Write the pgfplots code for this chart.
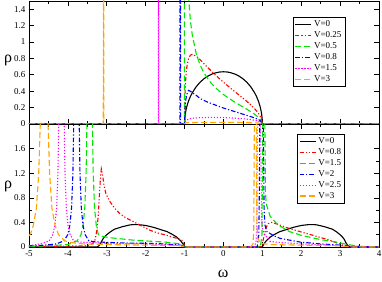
\documentclass[border=0pt]{standalone}
\usepackage{fontspec}
\setmainfont{Liberation Serif}
\usepackage{pgfplots}
\pgfplotsset{compat=1.18}
\definecolor{cgreen}{RGB}{0,230,0}
\definecolor{corange}{RGB}{255,165,0}
\definecolor{cmag}{RGB}{255,0,255}
\definecolor{cblue}{RGB}{0,0,255}
\definecolor{cred}{RGB}{255,0,0}
\pgfplotsset{
  myax/.style={scale only axis, width=350pt, height=123pt,
    xmin=-5, xmax=4, xtick={-5,...,4}, minor x tick num=1,
    tick align=inside, major tick length=5pt, minor tick length=3pt,
    axis line style={line width=0.9pt},
    every tick/.style={black, line width=0.6pt},
    tick label style={font=\fontsize{9}{10}\selectfont},
    /pgf/number format/assume math mode=true,
    legend style={font=\fontsize{9}{10}\selectfont, draw=black,
      inner sep=1.5pt, row sep=-0.5pt, cells={anchor=west}},
    legend cell align=left,
    legend image code/.code={\draw[#1, line width=1.5pt] (0pt,0pt) -- (16pt,0pt);},
    ylabel style={rotate=-90, anchor=center, font=\fontsize{16}{18}\selectfont},
  },
  s0/.style={draw=black, color=black, line width=1.1pt},
  s1/.style={draw=cred, color=cred, line width=1.1pt, dash pattern=on 4pt off 2pt on 1.2pt off 2pt on 1.2pt off 2pt},
  s2/.style={draw=cgreen, color=cgreen, line width=1.1pt, dash pattern=on 6pt off 3pt},
  s3/.style={draw=cblue, color=cblue, line width=1.1pt, dash pattern=on 4.5pt off 2pt on 1.2pt off 2pt},
  s4/.style={draw=cmag, color=cmag, line width=1.1pt, dash pattern=on 1.2pt off 1.8pt},
  s5/.style={draw=corange, color=corange, line width=1.1pt, dash pattern=on 6pt off 3pt},
}
\begin{document}
\begin{tikzpicture}
\useasboundingbox (-29pt,-34pt) rectangle (353pt,247pt);
% ---------------- top panel
\begin{axis}[myax, at={(0pt,123pt)}, anchor=south west,
  ymin=0, ymax=1.5, ytick={0,0.2,0.4,0.6,0.8,1,1.2,1.4}, xticklabels={},
  ylabel={ρ}, ylabel style={at={(axis description cs:-0.06,0.52)}},
  legend style={at={(axis description cs:0.754,0.87)}, anchor=north west}]
\addplot[s0] coordinates {(-5,0)(-1,0)(-0.99,0.090)(-0.98,0.127)(-0.96,0.178)(-0.94,0.217)(-0.9,0.278)(-0.85,0.336)(-0.8,0.382)(-0.7,0.455)(-0.6,0.510)(-0.5,0.552)(-0.4,0.584)(-0.3,0.608)(-0.2,0.624)(-0.1,0.634)(0,0.637)(0.1,0.634)(0.2,0.624)(0.3,0.608)(0.4,0.584)(0.5,0.552)(0.6,0.510)(0.7,0.455)(0.8,0.382)(0.85,0.336)(0.9,0.278)(0.94,0.217)(0.96,0.178)(0.98,0.127)(0.99,0.090)(1,0)(4,0)};
\addlegendentry{V=0}
\addplot[s1] coordinates {(-5,0)(-1,0)(-0.99,0.345)(-0.98,0.469)(-0.96,0.615)(-0.94,0.700)(-0.9,0.793)(-0.85,0.839)(-0.8,0.849)(-0.7,0.827)(-0.6,0.784)(-0.5,0.735)(-0.4,0.687)(-0.3,0.640)(-0.2,0.595)(-0.1,0.551)(0,0.510)(0.1,0.470)(0.2,0.430)(0.3,0.392)(0.4,0.354)(0.5,0.315)(0.6,0.276)(0.7,0.233)(0.8,0.186)(0.85,0.160)(0.9,0.129)(0.94,0.099)(0.96,0.081)(0.98,0.057)(1,0)(4,0)};
\addlegendentry{V=0.25}
\addplot[s2] coordinates {(-5,0)(-1.005,0)(-1.0,4)(-0.97,4)(-0.95,2.25)(-0.9,1.57)(-0.85,1.26)(-0.8,1.08)(-0.7,0.857)(-0.6,0.72)(-0.5,0.624)(-0.4,0.55)(-0.3,0.49)(-0.2,0.441)(-0.1,0.398)(0,0.36)(0.1,0.326)(0.2,0.294)(0.3,0.264)(0.4,0.236)(0.5,0.208)(0.6,0.18)(0.7,0.151)(0.8,0.12)(0.9,0.082)(0.95,0.058)(1,0)(4,0)};
\addlegendentry{V=0.5}
\addplot[s3] coordinates {(-5,0)(-1.12,0)(-1.11,4)(-1.10,0)(-1,0)(-0.98,0.25)(-0.95,0.35)(-0.9,0.41)(-0.85,0.40)(-0.8,0.38)(-0.7,0.35)(-0.6,0.31)(-0.4,0.265)(-0.2,0.23)(0,0.195)(0.2,0.165)(0.4,0.135)(0.6,0.105)(0.8,0.075)(0.9,0.055)(0.95,0.04)(1,0)(4,0)};
\addlegendentry{V=0.8}
\addplot[s4] coordinates {(-5,0)(-1.675,0)(-1.667,4)(-1.66,0)(-1,0)(-0.98,0.03)(-0.95,0.045)(-0.9,0.06)(-0.8,0.07)(-0.6,0.078)(-0.4,0.08)(-0.2,0.08)(0,0.078)(0.2,0.074)(0.4,0.068)(0.6,0.06)(0.8,0.046)(0.9,0.036)(0.95,0.027)(1,0)(4,0)};
\addlegendentry{V=1.5}
\addplot[s5] coordinates {(-5,0)(-3.09,0)(-3.083,4)(-3.076,0)(-1,0)(-0.98,0.012)(-0.9,0.018)(-0.5,0.02)(0,0.02)(0.5,0.018)(0.9,0.012)(1,0)(4,0)};
\addlegendentry{V=3}
\end{axis}
% ---------------- bottom panel
\begin{axis}[myax, at={(0pt,0pt)}, anchor=south west,
  ymin=0, ymax=2, ytick={0,0.4,0.8,1.2,1.6}, minor y tick num=1,
  ylabel={ρ}, ylabel style={at={(axis description cs:-0.06,0.49)}},
  xlabel={ω}, xlabel style={at={(axis description cs:0.5545,-0.22)}, anchor=center, font=\fontsize{16}{18}\selectfont},
  legend style={at={(axis description cs:0.766,0.919)}, anchor=north west}]
\addplot[s0] coordinates {(-5,0)(-3.25,0)(-3.2,0.02)(-3.15,0.07)(-3.1,0.13)(-3.05,0.17)(-3.0,0.2)(-2.9,0.25)(-2.8,0.29)(-2.6,0.33)(-2.4,0.36)(-2.3,0.365)(-2.2,0.365)(-2.0,0.35)(-1.8,0.32)(-1.6,0.28)(-1.45,0.25)(-1.3,0.2)(-1.2,0.16)(-1.1,0.1)(-1.04,0.05)(-1.0,0)(1.0,0)(1.04,0.05)(1.1,0.1)(1.2,0.16)(1.3,0.2)(1.45,0.25)(1.6,0.28)(1.8,0.32)(2.0,0.35)(2.2,0.365)(2.3,0.365)(2.4,0.36)(2.6,0.33)(2.8,0.29)(2.9,0.25)(3.0,0.2)(3.05,0.17)(3.1,0.13)(3.15,0.07)(3.2,0.02)(3.25,0)(4,0)};
\addlegendentry{V=0}
\addplot[s1] coordinates {(-5,0.005)(-3.5,0.02)(-3.35,0.06)(-3.3,0.12)(-3.26,0.25)(-3.22,0.5)(-3.19,0.85)(-3.16,1.15)(-3.14,1.27)(-3.11,1.18)(-3.07,1.0)(-3.02,0.86)(-2.91,0.73)(-2.8,0.63)(-2.66,0.54)(-2.5,0.47)(-2.31,0.41)(-2.1,0.34)(-1.88,0.27)(-1.7,0.23)(-1.46,0.19)(-1.3,0.16)(-1.15,0.13)(-1.07,0.11)(-1.02,0.06)(-1.0,0)(0.95,0)(1.0,0.05)(1.05,0.2)(1.1,0.32)(1.15,0.38)(1.24,0.40)(1.4,0.37)(1.6,0.32)(1.97,0.25)(2.3,0.19)(2.74,0.11)(2.9,0.07)(3.07,0.03)(3.2,0.01)(4,0)};
\addlegendentry{V=0.8}
\addplot[s2] coordinates {(-5,0.01)(-4.5,0.02)(-4.0,0.04)(-3.76,0.1)(-3.664,0.2)(-3.61,0.35)(-3.566,0.63)(-3.531,1.2)(-3.511,2.0)(-3.49,4)(-3.44,6)(-3.39,4)(-3.369,2.0)(-3.349,1.2)(-3.314,0.63)(-3.27,0.35)(-3.216,0.2)(-3.1,0.17)(-2.9,0.15)(-2.3,0.11)(-1.5,0.08)(-1.1,0.05)(-1.0,0)(0.95,0)(0.99,0.2)(1.0,1)(1.01,2)(1.04,6)(1.065,2)(1.08,0.9)(1.1,0.7)(1.2,0.5)(1.4,0.36)(1.7,0.25)(2.0,0.19)(2.5,0.12)(2.9,0.08)(3.2,0.04)(3.5,0.01)(4,0)};
\addlegendentry{V=1.5}
\addplot[s3] coordinates {(-5,0.02)(-4.6,0.03)(-4.3,0.05)(-4.1,0.1)(-4.004,0.2)(-3.95,0.35)(-3.906,0.63)(-3.871,1.2)(-3.851,2.0)(-3.83,4)(-3.78,6)(-3.73,4)(-3.709,2.0)(-3.689,1.2)(-3.654,0.63)(-3.611,0.35)(-3.556,0.2)(-3.46,0.1)(-3.3,0.085)(-3.0,0.075)(-2.5,0.065)(-2.0,0.06)(-1.5,0.05)(-1.1,0.03)(-1.0,0)(0.87,0)(0.91,0.2)(0.925,1)(0.935,2)(0.98,6)(1.025,2)(1.045,0.6)(1.07,0.35)(1.12,0.25)(1.3,0.18)(1.46,0.14)(1.97,0.08)(2.5,0.05)(3.0,0.03)(3.3,0.01)(4,0)};
\addlegendentry{V=2}
\addplot[s4] coordinates {(-5,0.02)(-4.8,0.04)(-4.6,0.07)(-4.48,0.1)(-4.39,0.2)(-4.335,0.35)(-4.29,0.63)(-4.256,1.2)(-4.236,2.0)(-4.215,4)(-4.165,6)(-4.115,4)(-4.094,2.0)(-4.074,1.2)(-4.04,0.63)(-3.996,0.35)(-3.94,0.2)(-3.85,0.1)(-3.7,0.08)(-3.4,0.07)(-3.0,0.06)(-2.5,0.055)(-2.0,0.05)(-1.5,0.04)(-1.1,0.025)(-1.0,0)(0.8,0)(0.84,0.1)(0.86,0.4)(0.875,2)(0.915,6)(0.955,2)(0.98,0.5)(1.0,0.3)(1.05,0.22)(1.2,0.09)(1.5,0.07)(2.0,0.05)(2.5,0.04)(3.0,0.02)(3.3,0)(4,0)};
\addlegendentry{V=2.5}
\addplot[s5] coordinates {(-5,0.18)(-4.95,0.23)(-4.89,0.35)(-4.81,0.63)(-4.75,1.2)(-4.71,2.0)(-4.66,4.5)(-4.61,7.3)(-4.56,4.5)(-4.51,2.0)(-4.47,1.2)(-4.41,0.63)(-4.33,0.35)(-4.24,0.2)(-4.08,0.1)(-3.9,0.07)(-3.6,0.05)(-3.0,0.04)(-2.0,0.03)(-1.1,0.02)(-1.0,0)(0.7,0)(0.76,0.05)(0.78,0.3)(0.795,2)(0.82,6)(0.845,2)(0.86,0.4)(0.88,0.15)(0.95,0.06)(1.2,0.04)(2.0,0.03)(3.0,0.02)(3.3,0)(4,0)};
\addlegendentry{V=3}
\end{axis}
\end{tikzpicture}
\end{document}
